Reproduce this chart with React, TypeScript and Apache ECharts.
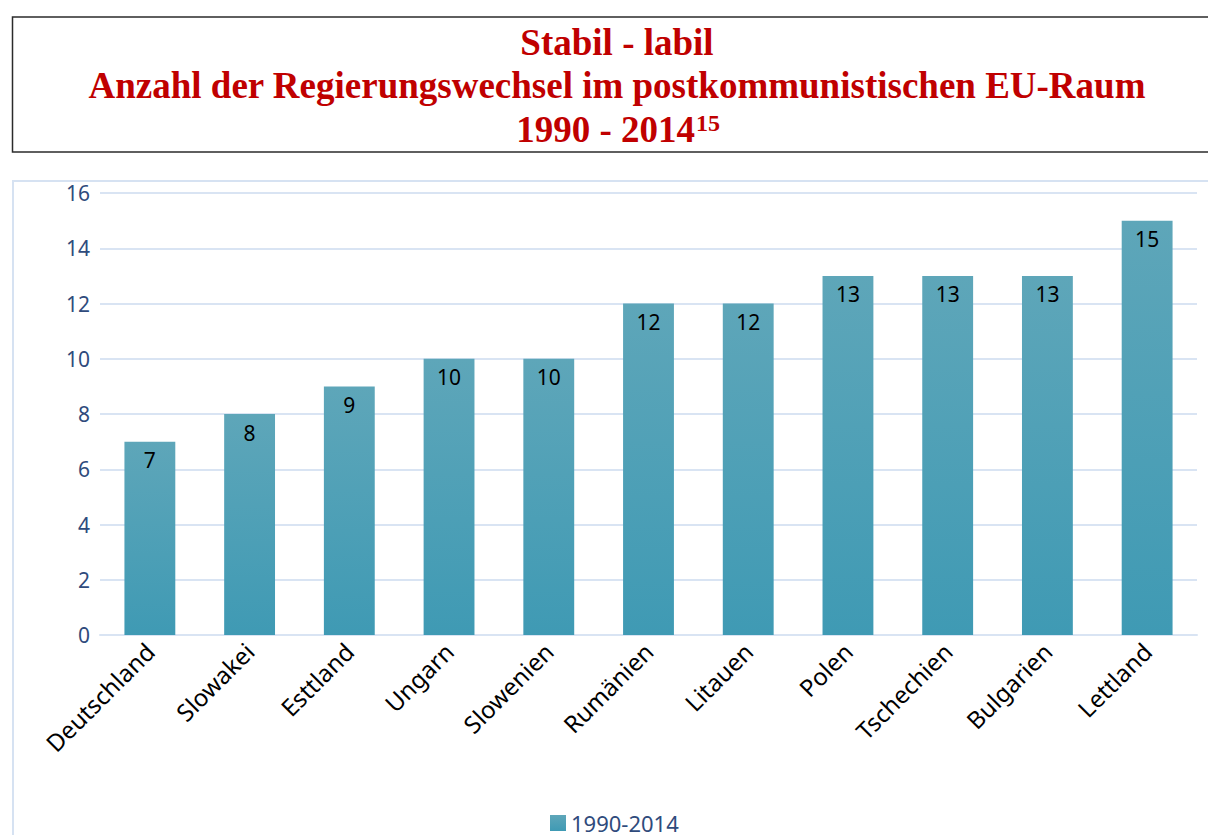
import React, { useEffect, useRef } from "react";
import * as echarts from "echarts";

const categories = [
  "Deutschland",
  "Slowakei",
  "Esttland",
  "Ungarn",
  "Slowenien",
  "Rumänien",
  "Litauen",
  "Polen",
  "Tschechien",
  "Bulgarien",
  "Lettland",
];
const values = [7, 8, 9, 10, 10, 12, 12, 13, 13, 13, 15];
const seriesName = "1990-2014";
const yMin = 0;
const yMax = 16;
const yInterval = 2;
const titleLine1 = "Stabil - labil";
const titleLine2 = "Anzahl der Regierungswechsel im postkommunistischen EU-Raum";
const titleLine3 = "1990 - 2014";
const titleFootnote = "15";

const TITLE_FONT = '"Liberation Serif", "Times New Roman", serif';
const BODY_FONT = '"Noto Sans", "Open Sans", sans-serif';
const RED = "#C00000";

export default function App() {
  const ref = useRef<HTMLDivElement>(null);
  useEffect(() => {
    if (!ref.current) return;
    const chart = echarts.init(ref.current, undefined, { renderer: "svg" });
    const barColor = new echarts.graphic.LinearGradient(0, 0, 0, 1, [
      { offset: 0, color: "#5EA6B9" },
      { offset: 1, color: "#3F9AB4" },
    ]);
    chart.setOption({
      animation: false,
      textStyle: { fontFamily: BODY_FONT },
      grid: { left: 100, right: 11, top: 193, bottom: 200, containLabel: false },
      legend: {
        data: [seriesName],
        left: 550,
        top: 812,
        padding: 0,
        icon: "rect",
        itemWidth: 16,
        itemHeight: 16,
        itemGap: 8,
        textStyle: { color: "#2F4B7C", fontSize: 22, lineHeight: 20, fontFamily: BODY_FONT },
      },
      xAxis: {
        type: "category",
        data: categories,
        axisLine: { lineStyle: { color: "#D9E4F3", width: 2 } },
        axisTick: { show: false },
        axisLabel: {
          rotate: 45,
          interval: 0,
          color: "#000",
          fontSize: 24,
          margin: 12,
          fontFamily: BODY_FONT,
        },
      },
      yAxis: {
        type: "value",
        min: yMin,
        max: yMax,
        interval: yInterval,
        axisLine: { show: false },
        axisTick: { show: false },
        splitLine: { lineStyle: { color: "#D9E4F3", width: 2 } },
        axisLabel: { color: "#2F4B7C", fontSize: 21, margin: 10, fontFamily: BODY_FONT },
      },
      series: [
        {
          name: seriesName,
          type: "bar",
          data: values,
          barWidth: "51%",
          itemStyle: { color: barColor },
          label: {
            show: true,
            position: "insideTop",
            distance: 8,
            color: "#000",
            fontSize: 21,
            fontFamily: BODY_FONT,
          },
        },
      ],
      graphic: [
        {
          type: "rect",
          shape: { x: 12.5, y: 17, width: 1230, height: 135 },
          style: { fill: "none", stroke: "#2b2b2b", lineWidth: 1.5 },
          silent: true,
        },
        {
          type: "rect",
          shape: { x: 13, y: 181, width: 1240, height: 720 },
          style: { fill: "none", stroke: "#D6E2F2", lineWidth: 2 },
          silent: true,
        },
        {
          type: "text",
          x: 617,
          y: 42,
          style: {
            text: titleLine1,
            font: `bold 37px ${TITLE_FONT}`,
            fill: RED,
            align: "center",
            verticalAlign: "middle",
          },
        },
        {
          type: "text",
          x: 617,
          y: 85,
          style: {
            text: titleLine2,
            font: `bold 37px ${TITLE_FONT}`,
            fill: RED,
            align: "center",
            verticalAlign: "middle",
          },
        },
        {
          type: "text",
          x: 695,
          y: 129,
          style: {
            text: titleLine3,
            font: `bold 37px ${TITLE_FONT}`,
            fill: RED,
            align: "right",
            verticalAlign: "middle",
          },
        },
        {
          type: "text",
          x: 696,
          y: 123,
          style: {
            text: titleFootnote,
            font: `bold 24px ${TITLE_FONT}`,
            fill: RED,
            align: "left",
            verticalAlign: "middle",
          },
        },
      ],
    });
    return () => chart.dispose();
  }, []);
  return (
    <div
      ref={ref}
      style={{ position: "fixed", left: 0, top: 0, width: 1208, height: 835, background: "#fff" }}
    />
  );
}
